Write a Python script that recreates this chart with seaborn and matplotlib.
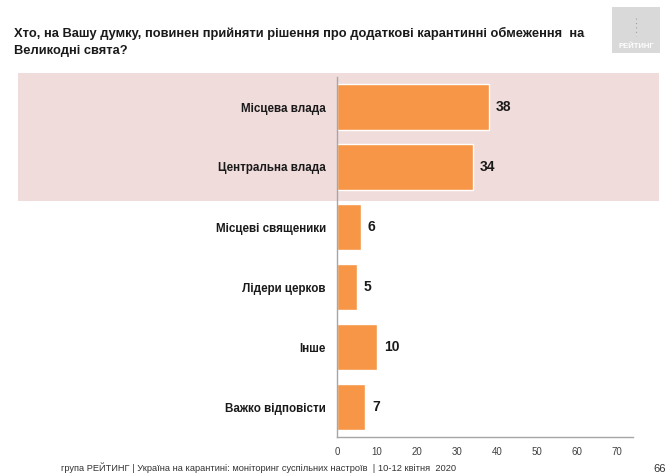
import matplotlib
matplotlib.use("Agg")
import matplotlib.pyplot as plt
import seaborn as sns
import pandas as pd
from matplotlib.patches import Rectangle

# data
categories = ["Місцева влада", "Центральна влада", "Місцеві священики",
              "Лідери церков", "Інше", "Важко відповісти"]
values = [38, 34, 6, 5, 10, 7]
x_ticks = [0, 10, 20, 30, 40, 50, 60, 70]

title = ("Хто, на Вашу думку, повинен прийняти рішення про додаткові карантинні обмеження  на\n"
         "Великодні свята?")
footer = "група РЕЙТИНГ | Україна на карантині: моніторинг суспільних настроїв  | 10-12 квітня  2020"
page_no = "66"

sns.set_style("white")
plt.rcParams["font.family"] = ["Liberation Sans", "DejaVu Sans"]

W, H = 672, 476
fig = plt.figure(figsize=(W / 100, H / 100), dpi=100)

# highlighted band behind the first two rows
fig.patches.append(Rectangle((18 / W, 1 - 201 / H), 641 / W, 128 / H,
                             transform=fig.transFigure, facecolor="#F1DCDC",
                             edgecolor="none", zorder=-5))

ax = fig.add_axes([337 / W, 1 - 437 / H, 296 / W, 360 / H])
ax.set_facecolor("none")

df = pd.DataFrame({"cat": categories, "val": values})
sns.barplot(data=df, y="cat", x="val", orient="h", color="#F79646",
            saturation=1, width=0.78, ax=ax)

for c in ax.containers:
    ax.bar_label(c, labels=[str(v) for v in values], padding=5,
                 fontsize=10, fontweight="bold", color="#1a1a1a")

ax.set_xlim(0, 74)
ax.set_ylim(5.5, -0.5)
ax.set_xlabel("")
ax.set_ylabel("")
ax.set_xticks(x_ticks)
ax.tick_params(axis="x", length=4, color="#A6A6A6", labelsize=7, labelcolor="#404040",
               pad=3, direction="out")
ax.tick_params(axis="y", length=0, pad=8, labelsize=8.4)
ax.set_yticks(range(len(categories)))
ax.set_yticks([i - 0.5 for i in range(len(categories) + 1)], minor=True)
ax.tick_params(axis="y", which="minor", length=4, color="#A6A6A6", direction="out")
for lbl in ax.get_yticklabels():
    lbl.set_fontweight("bold")
    lbl.set_color("#1a1a1a")

for s in ["top", "right"]:
    ax.spines[s].set_visible(False)
for s in ["left", "bottom"]:
    ax.spines[s].set_color("#A6A6A6")
    ax.spines[s].set_linewidth(1)

fig.text(14 / W, 1 - 27 / H, title, ha="left", va="top", fontsize=9.3,
         fontweight="bold", color="#1a1a1a", linespacing=1.5)

# logo box
fig.patches.append(Rectangle((612 / W, 1 - 53 / H), 48 / W, 46 / H,
                             transform=fig.transFigure, facecolor="#D9D9D9",
                             edgecolor="none"))
fig.text(636 / W, 1 - 47 / H, "РЕЙТИНГ", ha="center", va="center", fontsize=5.5,
         fontweight="bold", color="white")
fig.lines.append(plt.Line2D([636 / W, 636 / W], [1 - 18 / H, 1 - 36 / H],
                            transform=fig.transFigure, color="#A0A0A0",
                            linestyle=(0, (1, 3)), linewidth=0.8))

fig.text(259 / W, 1 - 468 / H, footer, ha="center", va="center", fontsize=6.7,
         color="#333333")
fig.text(660 / W, 1 - 469 / H, page_no, ha="center", va="center", fontsize=8,
         color="#333333")

fig.savefig("out.png", dpi=100)
